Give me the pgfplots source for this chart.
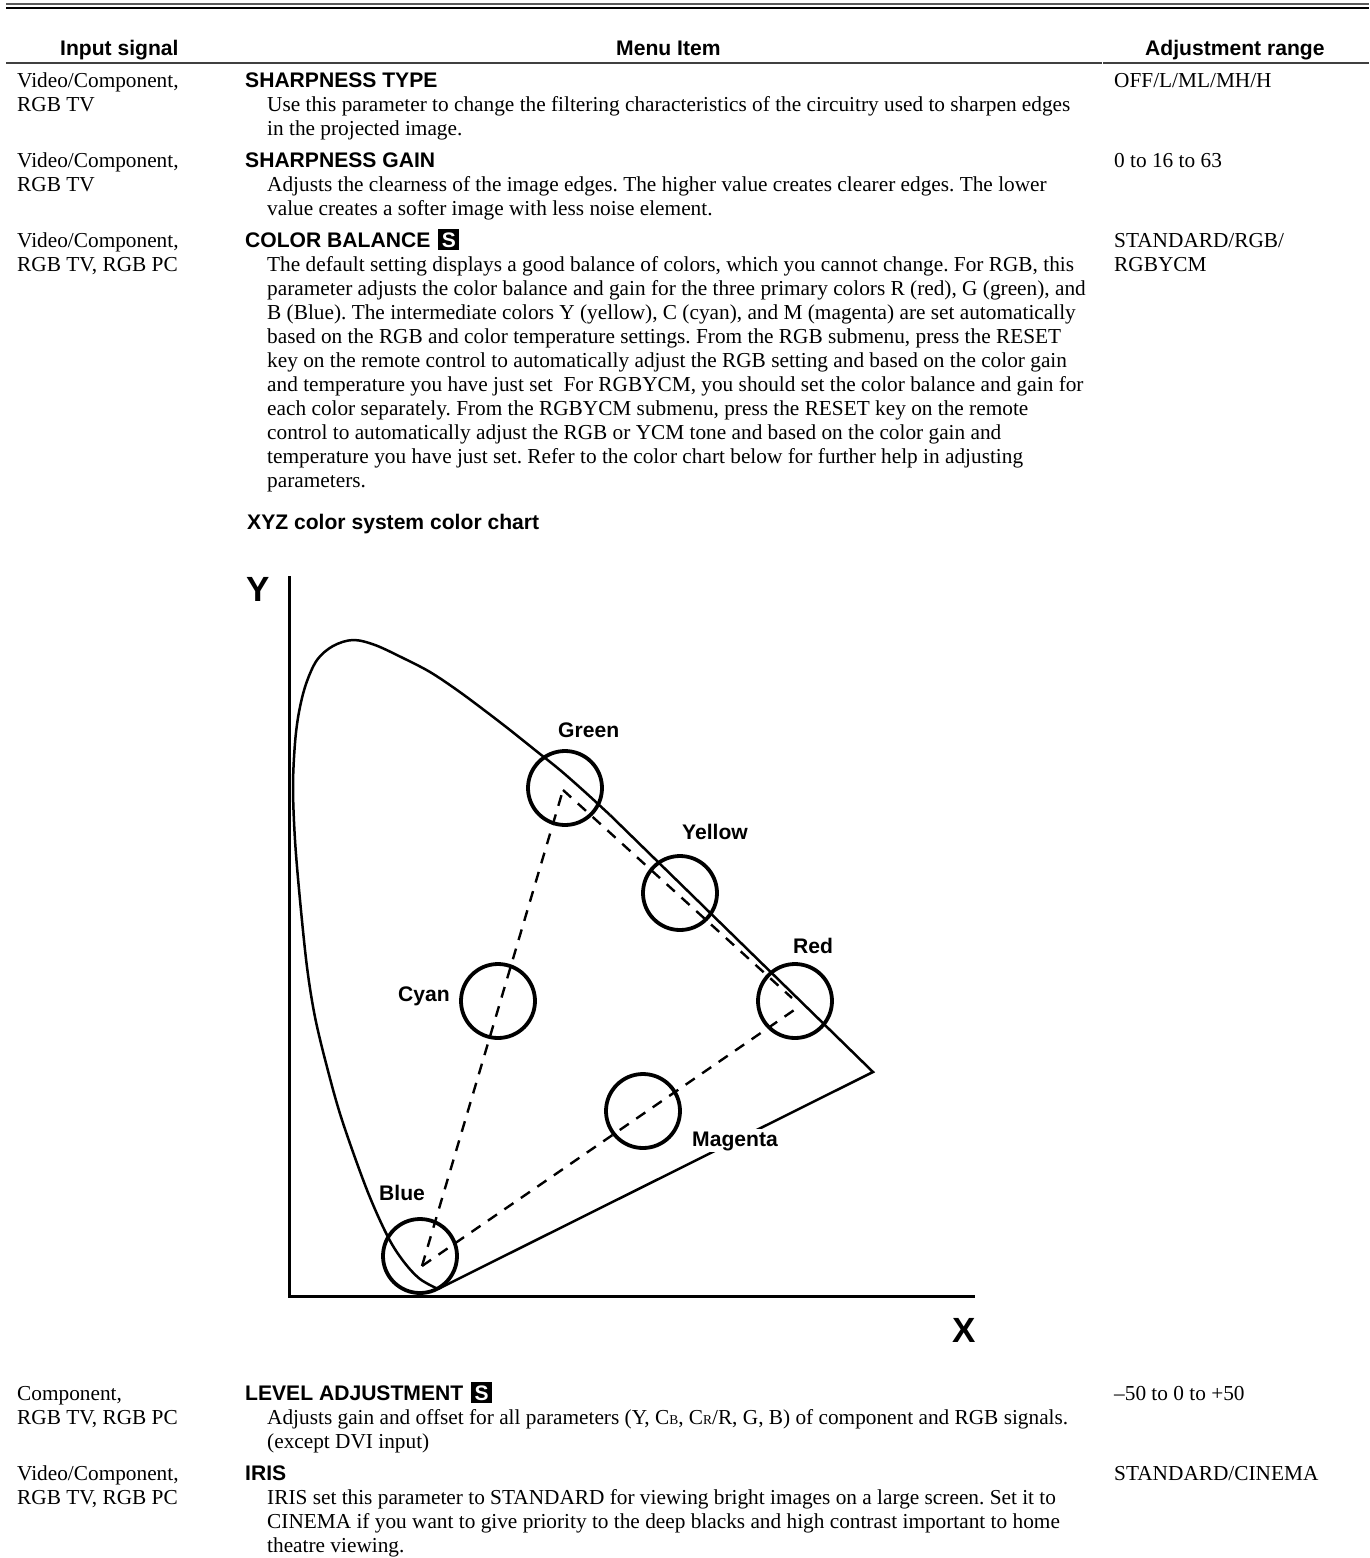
\documentclass[border=0pt]{standalone}
\usepackage{pgfplots}
\pgfplotsset{compat=1.18}
\usepackage{fontspec}
\setmainfont{Liberation Serif}
\setsansfont{Liberation Sans}
\frenchspacing
\newcommand{\sz}{\fontsize{21.3}{24}\selectfont}
\newcommand{\T}[3]{\node[anchor=base west,inner sep=0pt,font=\sz] at (axis cs:#1,#2) {#3};}
\newcommand{\B}[3]{\node[anchor=base west,inner sep=0pt,font=\fontsize{21.1}{24}\selectfont\sffamily\bfseries] at (axis cs:#1,#2) {#3};}
\newcommand{\Sb}{\hspace{2pt}{\setlength{\fboxsep}{3pt}\colorbox{black}{\makebox[15pt]{\textcolor{white}{\fontsize{21}{21}\selectfont S}}}}}
\newcommand{\sm}[1]{{\fontsize{13.5}{14}\selectfont #1}}
\begin{document}
\begin{tikzpicture}
\path[use as bounding box] (0,0) rectangle (1369pt,1558pt);
\begin{axis}[scale only axis,width=1369pt,height=1558pt,xmin=0,xmax=1369,ymin=0,ymax=1558,y dir=reverse,hide axis,clip=false]
% rules
\addplot[gray!70!black,line width=1.6pt] coordinates {(6,4) (1369,4)};
\addplot[black,line width=2.8pt] coordinates {(6,8) (1369,8)};
\addplot[black!75,line width=2pt] coordinates {(6,63) (1102,63)};
\addplot[black!75,line width=2pt] coordinates {(1103,63) (1369,63)};
% chart axes
\addplot[black,line width=3pt] coordinates {(289,576) (289,1296) (975,1296)};
% spectrum locus
\addplot[black,line width=2.5pt,smooth,tension=0.55] coordinates {(438,1289) (420,1279) (404,1262) (388,1237) (367,1190) (342,1120) (327,1067) (315,1017) (307,967) (300,900) (295,840) (293,787) (295,743) (299,712) (306,684) (317,660) (333,646) (353,640) (375,645) (403,658) (430,672) (457,690) (484,710) (510,730) (535,750) (560,770) (585,792) (610,815)};
\addplot[black,line width=2.5pt] coordinates {(610,815) (873,1072) (438,1289)};
% dashed triangle
\addplot[black,line width=2.4pt,dash pattern=on 11pt off 9pt] coordinates {(422,1266) (563,790)};
\addplot[black,line width=2.4pt,dash pattern=on 11pt off 9pt] coordinates {(563,790) (792,998)};
\addplot[black,line width=2.4pt,dash pattern=on 11pt off 9pt] coordinates {(422,1266) (800,1006)};
% colour circles
\addplot[only marks,mark=o,mark size=37pt,mark options={line width=3.8pt,draw=black,fill=none}] coordinates {(565,788) (680,893) (795,1001) (643,1111) (498,1001) (420,1256)};
% header
\B{60}{55}{Input signal}
\B{616}{55}{Menu Item}
\B{1145}{55}{Adjustment range}
% rows
\T{17}{87}{Video/Component,}
\T{17}{111}{RGB TV}
\B{245}{87}{SHARPNESS TYPE}
\T{267}{111}{Use this parameter to change the filtering characteristics of the circuitry used to sharpen edges}
\T{267}{135}{in the projected image.}
\T{1114}{87}{OFF/L/ML/MH/H}
\T{17}{167}{Video/Component,}
\T{17}{191}{RGB TV}
\B{245}{167}{SHARPNESS GAIN}
\T{267}{191}{Adjusts the clearness of the image edges. The higher value creates clearer edges. The lower}
\T{267}{215}{value creates a softer image with less noise element.}
\T{1114}{167}{0 to 16 to 63}
\T{17}{247}{Video/Component,}
\T{17}{271}{RGB TV, RGB PC}
\B{245}{247}{COLOR BALANCE \Sb}
\T{267}{271}{The default setting displays a good balance of colors, which you cannot change. For RGB, this}
\T{267}{295}{parameter adjusts the color balance and gain for the three primary colors R (red), G (green), and}
\T{267}{319}{B (Blue). The intermediate colors Y (yellow), C (cyan), and M (magenta) are set automatically}
\T{267}{343}{based on the RGB and color temperature settings. From the RGB submenu, press the RESET}
\T{267}{367}{key on the remote control to automatically adjust the RGB setting and based on the color gain}
\T{267}{391}{and temperature you have just set\ \ For RGBYCM, you should set the color balance and gain for}
\T{267}{415}{each color separately. From the RGBYCM submenu, press the RESET key on the remote}
\T{267}{439}{control to automatically adjust the RGB or YCM tone and based on the color gain and}
\T{267}{463}{temperature you have just set. Refer to the color chart below for further help in adjusting}
\T{267}{487}{parameters.}
\T{1114}{247}{STANDARD/RGB/}
\T{1114}{271}{RGBYCM}
\B{247}{529}{XYZ color system color chart}
% chart labels
\node[anchor=base west,inner sep=0pt,font=\fontsize{35}{35}\selectfont\sffamily\bfseries] at (axis cs:246,601) {Y};
\node[anchor=base west,inner sep=0pt,font=\fontsize{35}{35}\selectfont\sffamily\bfseries] at (axis cs:952,1342) {X};
\B{558}{737}{Green}
\B{682}{839}{Yellow}
\B{793}{953}{Red}
\B{398}{1001}{Cyan}
\B{379}{1200}{Blue}
\node[anchor=base west,inner sep=2pt,fill=white,font=\fontsize{21.1}{24}\selectfont\sffamily\bfseries] at (axis cs:690,1146) {Magenta};
% lower rows
\T{17}{1400}{Component,}
\T{17}{1424}{RGB TV, RGB PC}
\B{245}{1400}{LEVEL ADJUSTMENT \Sb}
\T{267}{1424}{Adjusts gain and offset for all parameters (Y, C\sm{B}, C\sm{R}/R, G, B) of component and RGB signals.}
\T{267}{1448}{(except DVI input)}
\T{1114}{1400}{--50 to 0 to +50}
\T{17}{1480}{Video/Component,}
\T{17}{1504}{RGB TV, RGB PC}
\B{245}{1480}{IRIS}
\T{267}{1504}{IRIS set this parameter to STANDARD for viewing bright images on a large screen. Set it to}
\T{267}{1528}{CINEMA if you want to give priority to the deep blacks and high contrast important to home}
\T{267}{1552}{theatre viewing.}
\T{1114}{1480}{STANDARD/CINEMA}
\end{axis}
\end{tikzpicture}
\end{document}
